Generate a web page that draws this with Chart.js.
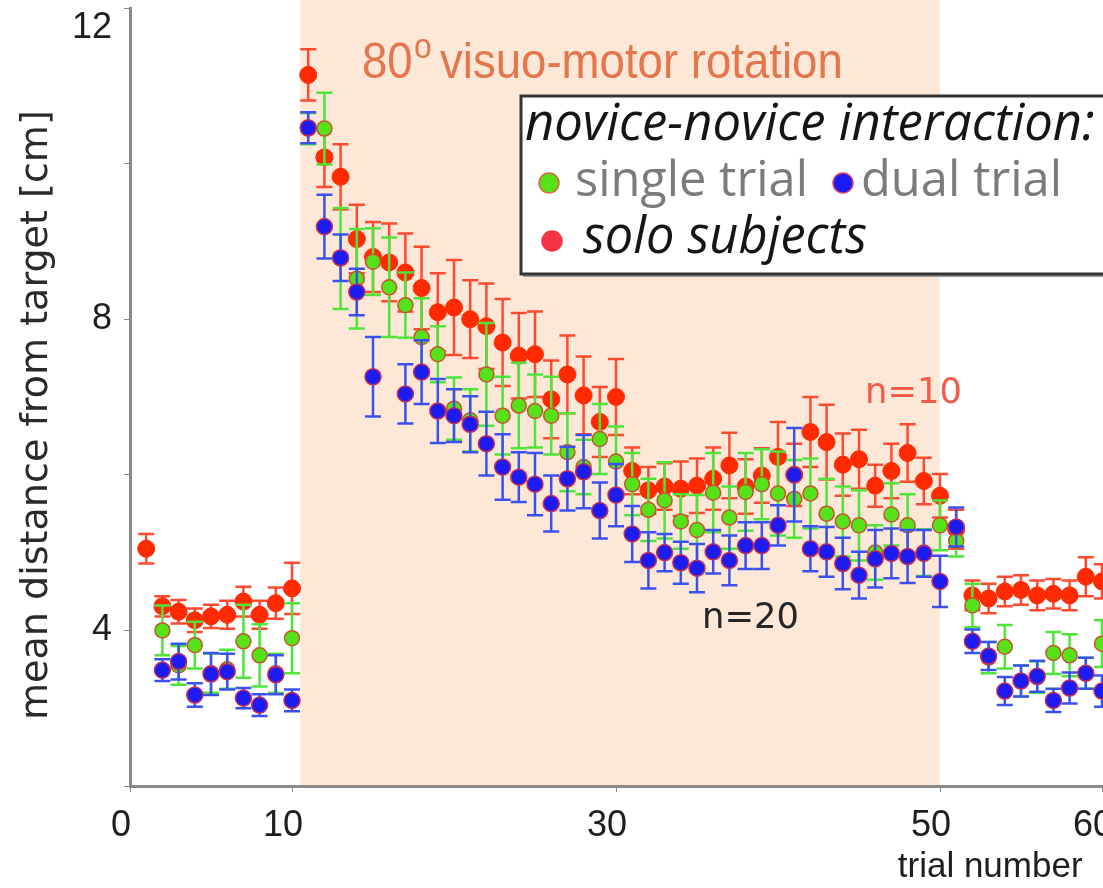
<!DOCTYPE html>
<html>
<head>
<meta charset="utf-8">
<script src="https://cdn.jsdelivr.net/npm/chart.js@4.4.1/dist/chart.umd.min.js"></script>
<style>
  html,body{margin:0;padding:0;background:#fff;overflow:hidden}
  #wrap{position:relative;width:1103px;height:888px}
</style>
</head>
<body>
<div id="wrap"><canvas id="c" width="1103" height="888"></canvas></div>
<script>
// trial index 1..60
const TRIALS = Array.from({length:60}, (_,i)=>i+1);

// solo subjects (red)
const SOLO = [5.05,4.31,4.24,4.13,4.18,4.20,4.37,4.20,4.35,4.54,
  11.14,10.08,9.83,9.03,8.80,8.73,8.60,8.40,8.09,8.15,
  8.00,7.91,7.70,7.53,7.55,6.97,7.29,7.02,6.68,7.00,
  6.05,5.80,5.85,5.82,5.86,5.95,6.12,5.85,5.99,6.23,
  6.00,6.55,6.42,6.13,6.20,5.86,6.05,6.28,5.92,5.73,
  5.30,4.45,4.41,4.50,4.52,4.45,4.47,4.45,4.69,4.63];
const SOLO_ERR = [0.19,0.13,0.15,0.15,0.15,0.18,0.19,0.18,0.20,0.33,
  0.33,0.38,0.42,0.44,0.45,0.50,0.50,0.53,0.50,0.61,
  0.50,0.55,0.56,0.55,0.55,0.50,0.50,0.50,0.45,0.49,
  0.30,0.30,0.30,0.35,0.35,0.40,0.42,0.35,0.35,0.45,
  0.40,0.45,0.48,0.40,0.38,0.27,0.35,0.37,0.30,0.28,
  0.25,0.19,0.19,0.19,0.19,0.19,0.19,0.19,0.25,0.22];

// novice-novice, single trial (green)
const SINGLE = [null,4.00,3.55,3.81,3.45,3.50,3.86,3.68,3.45,3.90,
  10.45,10.45,8.78,8.52,8.74,8.41,8.18,7.77,7.55,6.85,
  6.70,7.29,6.76,6.89,6.82,6.76,6.29,6.10,6.46,6.17,
  5.88,5.55,5.67,5.40,5.29,5.77,5.45,5.78,5.88,5.76,
  5.69,5.76,5.50,5.40,5.35,5.00,5.49,5.35,5.00,5.35,
  5.15,4.32,3.65,3.79,3.35,3.40,3.71,3.68,3.45,3.83];
const SINGLE_ERR = [null,0.32,0.25,0.30,0.25,0.25,0.47,0.40,0.25,0.45,
  0.20,0.46,0.65,0.64,0.43,0.64,0.42,0.50,0.36,0.40,
  0.40,0.66,0.50,0.55,0.47,0.50,0.50,0.35,0.45,0.45,
  0.40,0.40,0.49,0.35,0.45,0.51,0.40,0.50,0.45,0.54,
  0.50,0.45,0.45,0.45,0.45,0.35,0.40,0.40,0.30,0.32,
  0.20,0.28,0.20,0.28,0.20,0.20,0.27,0.27,0.20,0.30];

// novice-novice, dual trial (blue)
const DUAL = [null,3.49,3.60,3.17,3.44,3.47,3.13,3.04,3.43,3.10,
  10.46,9.19,8.79,8.35,7.26,null,7.04,7.32,6.82,6.76,
  6.65,6.40,6.10,5.97,5.88,5.63,5.95,6.04,5.54,5.74,
  5.24,4.90,5.00,4.87,4.80,5.01,4.90,5.09,5.09,5.35,
  6.00,5.05,5.01,4.86,4.71,4.92,4.99,4.95,4.99,4.63,
  5.33,3.86,3.67,3.22,3.35,3.41,3.10,3.26,3.45,3.22];
const DUAL_ERR = [null,0.14,0.23,0.15,0.27,0.23,0.13,0.14,0.25,0.14,
  0.20,0.41,0.30,0.30,0.51,null,0.38,0.41,0.41,0.34,
  0.36,0.41,0.42,0.32,0.40,0.36,0.41,0.47,0.36,0.40,
  0.36,0.36,0.24,0.27,0.31,0.28,0.32,0.30,0.30,0.26,
  0.60,0.29,0.32,0.33,0.30,0.37,0.32,0.34,0.30,0.33,
  0.25,0.15,0.18,0.18,0.20,0.20,0.15,0.20,0.20,0.20];

const X_TICKS = [0,10,30,50,60];
const Y_LABELS = [4,8,12];
const ROTATION = [10.5, 50];

const SANS = "'Liberation Sans', Arial, sans-serif";
const WIDE = "'DejaVu Sans', Verdana, sans-serif";
const LEG = "'Open Sans', 'Noto Sans', sans-serif";

const mctx = document.createElement('canvas').getContext('2d');
function fitSize(text, family, style, width){
  mctx.font = `${style} 100px ${family}`;
  return 100*width/mctx.measureText(text).width;
}

function pts(vals){
  return TRIALS.map((t,i)=>({x:t, y:vals[i]})).filter(p=>p.y!=null);
}
function errs(vals, e){
  return TRIALS.map((t,i)=>e[i]).filter((v,i)=>vals[i]!=null);
}

const Band = {
  id:'band',
  beforeDraw(chart){
    const {ctx, chartArea, scales:{x}} = chart;
    const x0 = x.getPixelForValue(ROTATION[0]), x1 = x.getPixelForValue(ROTATION[1]);
    ctx.save();
    ctx.fillStyle = '#fde8d8';
    ctx.fillRect(x0, 0, x1-x0, chartArea.bottom);
    ctx.restore();
  }
};

const ErrorBars = {
  id:'errorBars',
  beforeDatasetDraw(chart, args){
    const ds = chart.data.datasets[args.index];
    if(!ds.errors) return;
    const {ctx, scales:{x, y}} = chart;
    const cap = 8;
    ctx.save();
    ctx.strokeStyle = ds.barColor;
    ctx.lineWidth = 2.5;
    ds.data.forEach((p,i)=>{
      const e = ds.errors[i]; if(e==null) return;
      const px = x.getPixelForValue(p.x);
      const top = y.getPixelForValue(p.y+e), bot = y.getPixelForValue(p.y-e);
      ctx.beginPath();
      ctx.moveTo(px, top); ctx.lineTo(px, bot);
      ctx.moveTo(px-cap, top); ctx.lineTo(px+cap, top);
      ctx.moveTo(px-cap, bot); ctx.lineTo(px+cap, bot);
      ctx.stroke();
    });
    ctx.restore();
  }
};

const Notes = {
  id:'notes',
  afterDatasetsDraw(chart){
    const ctx = chart.ctx;
    ctx.save();
    ctx.textAlign = 'left'; ctx.textBaseline = 'alphabetic';
    // rotation label, slightly condensed like the original
    const f = fitSize('visuo-motor rotation', SANS, '', 403/0.92);
    ctx.fillStyle = '#e3764c';
    ctx.translate(362, 0); ctx.scale(0.92, 1);
    ctx.font = `${f}px ${SANS}`; ctx.fillText('80', 0, 78);
    ctx.font = `${f*0.7}px ${SANS}`; ctx.fillText('o', 52/0.92, 58);
    ctx.font = `${f}px ${SANS}`; ctx.fillText('visuo-motor rotation', 78/0.92, 78);
    ctx.setTransform(1,0,0,1,0,0);
    // group sizes
    const fn = fitSize('n=10', WIDE, '', 97);
    ctx.font = `${fn}px ${WIDE}`;
    ctx.fillStyle = '#f25c48'; ctx.fillText('n=10', 865, 403);
    ctx.fillStyle = '#262626'; ctx.fillText('n=20', 702, 628);
    ctx.restore();
  },
  afterDraw(chart){
    const ctx = chart.ctx;
    ctx.save();
    // legend box
    ctx.fillStyle = '#9a9a9a'; ctx.fillRect(523, 99, 600, 178);
    ctx.fillStyle = '#fff'; ctx.fillRect(521, 96, 600, 178);
    ctx.strokeStyle = '#333'; ctx.lineWidth = 3; ctx.strokeRect(521, 96, 600, 178);
    ctx.textAlign = 'left'; ctx.textBaseline = 'alphabetic';
    const head = 'novice-novice interaction:';
    ctx.fillStyle = '#151515';
    ctx.font = `italic ${fitSize(head, LEG, 'italic', 570)}px ${LEG}`;
    ctx.fillText(head, 525, 140);
    ctx.fillStyle = '#7b7b7b';
    ctx.font = `${fitSize('single trial', LEG, '', 233)}px ${LEG}`;
    ctx.fillText('single trial', 575, 196);
    ctx.font = `${fitSize('dual trial', LEG, '', 201)}px ${LEG}`;
    ctx.fillText('dual trial', 861, 196);
    ctx.fillStyle = '#151515';
    ctx.font = `italic ${fitSize('solo subjects', LEG, 'italic', 284)}px ${LEG}`;
    ctx.fillText('solo subjects', 583, 253);
    const dot = (x, y, fill, edge)=>{
      ctx.beginPath(); ctx.arc(x, y, 10, 0, Math.PI*2);
      ctx.fillStyle = fill; ctx.fill();
      ctx.lineWidth = 1.5; ctx.strokeStyle = edge; ctx.stroke();
    };
    dot(549, 183, '#55e21a', '#d8683c');
    dot(843, 183, '#1a1af5', '#d84068');
    dot(552, 241, '#f53545', '#f53545');
    ctx.restore();
  }
};

const ySize = fitSize('mean distance from target [cm]', WIDE, '', 610);
const yLine = ySize*1.2;

new Chart(document.getElementById('c'), {
  type:'scatter',
  data:{datasets:[
    {label:'dual trial', data:pts(DUAL), errors:errs(DUAL, DUAL_ERR), barColor:'#3a50f0',
     backgroundColor:'#1c1cf0', borderColor:'#c42c58', borderWidth:1.5, pointRadius:8, clip:false},
    {label:'single trial', data:pts(SINGLE), errors:errs(SINGLE, SINGLE_ERR), barColor:'#4fe43a',
     backgroundColor:'#55e21a', borderColor:'#c4562a', borderWidth:1.5, pointRadius:7.5, clip:false},
    {label:'solo subjects', data:pts(SOLO), errors:errs(SOLO, SOLO_ERR), barColor:'#ff4a30',
     backgroundColor:'#ff2a00', borderColor:'#ff2a00', borderWidth:1, pointRadius:8.5, clip:false}
  ]},
  options:{
    responsive:false, animation:false, events:[],
    layout:{autoPadding:false, padding:{top:8, right:1, left:0, bottom:0}},
    plugins:{legend:{display:false}, tooltip:{enabled:false}},
    scales:{
      x:{type:'linear', min:0, max:60,
        afterBuildTicks: s => { s.ticks = X_TICKS.map(v=>({value:v})); },
        afterFit: s => { s.height = 102; s.paddingLeft = 0; s.paddingRight = 0; },
        border:{display:true, color:'#8a8a8a', width:3},
        grid:{drawOnChartArea:false, drawTicks:true, tickLength:6, color:'#8a8a8a'},
        ticks:{autoSkip:false, maxRotation:0, padding:12, labelOffset:-9, color:'#1e1e1e',
          font:{family:SANS, size:36}},
        title:{display:true, text:'trial number\u00a0\u00a0', align:'end', color:'#1e1e1e',
          padding:{top:0, bottom:0}, font:{family:SANS, size:35}}
      },
      y:{min:2, max:12,
        afterFit: s => { s.width = 130; s.paddingTop = 0; s.paddingBottom = 0; },
        border:{display:true, color:'#8a8a8a', width:3},
        grid:{drawOnChartArea:false, drawTicks:true, tickLength:6, color:'#8a8a8a'},
        ticks:{stepSize:2, padding:12, color:'#1e1e1e', font:{family:SANS, size:36, lineHeight:1.1},
          callback: v => v===12 ? ['', '12'] : (Y_LABELS.includes(v) ? String(v) : '')},
        title:{display:true, text:'mean distance from target [cm]\u00a0\u00a0\u00a0', color:'#2a2a2a',
          padding:{top:37 - yLine/2, bottom:0}, font:{family:WIDE, size:ySize}}
      }
    }
  },
  plugins:[Band, ErrorBars, Notes]
});
</script>
</body>
</html>
